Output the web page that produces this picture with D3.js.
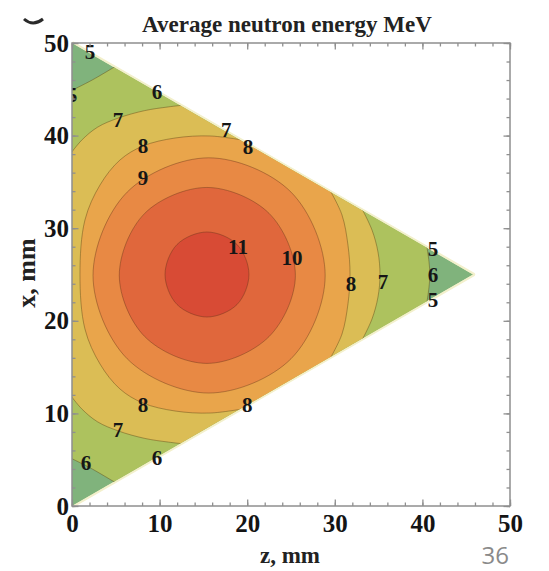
<!DOCTYPE html>
<html>
<head>
<meta charset="utf-8">
<script src="https://cdn.jsdelivr.net/npm/d3@7"></script>
<style>
  body { margin: 0; background: #fff; }
  text.serif { font-family: "Liberation Serif", "Times New Roman", serif; font-weight: bold; }
</style>
</head>
<body>
<svg id="chart" width="549" height="571"></svg>
<script>
// ---- data (z, x in mm) ----
const zTicks = [0, 10, 20, 30, 40, 50];
const xTicks = [0, 10, 20, 30, 40, 50];
const levels = [5, 6, 7, 8, 9, 10, 11];
const bandColors = ["#80b37c", "#adc25e", "#dbbd55", "#e9a54b", "#e88944", "#e0673c", "#d84b35"];

// target cross-section (triangle)
const triangle = [[0, 50], [45.8, 25], [0, 0]];

// E = 6 MeV contour: three pieces cutting off the corners
const c6TopLeft    = [[-0.2, 44.8], [2.3, 46.0], [5.0, 47.5]];
const c6Apex       = [[40.5, 28.1], [40.75, 26.4], [40.85, 25.0], [40.75, 23.6], [40.5, 21.9]];
const c6BottomLeft = [[5.0, 2.5], [2.3, 4.0], [-0.2, 5.2]];

// E = 7 MeV contour
const c7TopLeft    = [[-0.2, 38.0], [1.1, 39.5], [2.9, 40.9], [5.3, 41.9], [8.3, 42.7], [11.0, 43.1], [12.8, 43.3]];
const c7Apex       = [[33.1, 32.1], [34.25, 29.8], [34.93, 27.43], [35.16, 25.0], [34.93, 22.57], [34.25, 20.2], [33.1, 17.9]];
const c7BottomLeft = [[12.8, 6.7], [11.0, 6.9], [8.3, 7.3], [5.3, 8.1], [2.9, 9.1], [1.1, 10.5], [-0.2, 12.0]];

// E = 8 MeV contour
const c8Left = [[19.6, 10.5], [15.75, 10.04], [11.76, 10.26], [8.1, 11.12], [5.48, 12.63], [3.2, 15.33],
                [1.48, 19.11], [0.91, 25.0], [1.48, 30.89], [3.2, 34.67], [5.48, 37.37], [8.1, 38.88],
                [11.76, 39.74], [15.75, 39.96], [19.6, 39.5]];
const c8Apex = [[29.45, 34.1], [30.82, 31.43], [31.5, 28.19], [31.74, 25.0], [31.5, 21.81], [30.82, 18.57], [29.45, 15.9]];

// E = 9, 10, 11 MeV contours (closed loops)
const c9  = [[28.9, 24.9], [25.0, 33.9], [15.6, 37.6], [6.3, 33.9], [2.4, 24.9], [6.3, 15.9], [15.6, 12.2], [25.0, 15.9]];
const c10 = [[25.5, 24.9], [22.5, 31.6], [15.4, 34.4], [8.3, 31.6], [5.4, 24.9], [8.3, 18.3], [15.4, 15.4], [22.5, 18.3]];
const c11 = [[20.2, 25.0], [18.84, 28.24], [15.41, 29.59], [11.99, 28.24], [10.62, 25.0], [11.99, 21.76], [15.41, 20.41], [18.84, 21.76]];

// contour labels: [z, x, text]
const contourLabels = [
  [2.05, 49.0, "5"], [0.0, 44.4, "5"], [9.7, 44.7, "6"], [5.25, 41.7, "7"], [17.6, 40.6, "7"],
  [8.1, 38.9, "8"], [20.1, 38.8, "8"], [8.1, 35.4, "9"], [18.95, 28.0, "11"], [25.1, 26.8, "10"],
  [31.85, 24.0, "8"], [35.5, 24.2, "7"], [41.2, 27.8, "5"], [41.2, 25.0, "6"], [41.2, 22.3, "5"],
  [8.1, 10.9, "8"], [20.0, 10.9, "8"], [5.25, 8.2, "7"], [1.6, 4.6, "6"], [9.7, 5.2, "6"]
];

// ---- layout ----
const svg = d3.select("#chart");
const plotLeft = 72, plotRight = 510, plotTop = 43, plotBottom = 506;
const z = d3.scaleLinear().domain([0, 50]).range([plotLeft, plotRight]);
const x = d3.scaleLinear().domain([0, 50]).range([plotBottom, plotTop]);

const defs = svg.append("defs");
defs.append("clipPath").attr("id", "tri")
  .append("path").attr("d", d3.line().x(d => z(d[0])).y(d => x(d[1]))(triangle) + "Z");
defs.append("clipPath").attr("id", "frame")
  .append("rect").attr("x", plotLeft).attr("y", plotTop)
  .attr("width", plotRight - plotLeft).attr("height", plotBottom - plotTop);

const openCurve = d3.line().x(d => z(d[0])).y(d => x(d[1])).curve(d3.curveCatmullRom.alpha(0.5));
const closedCurve = d3.line().x(d => z(d[0])).y(d => x(d[1])).curve(d3.curveCatmullRomClosed.alpha(0.5));

// region bounded by contour pieces joined along the triangle edges
function regionPath(pieces) {
  return pieces.map((p, i) => {
    const s = openCurve(p);
    return i === 0 ? s : "L" + s.slice(1);
  }).join("") + "Z";
}

// pale rim along the slanted faces
svg.append("path")
  .attr("d", d3.line().x(d => z(d[0])).y(d => x(d[1]))(triangle))
  .attr("fill", "none").attr("stroke", "#f3f0cc").attr("stroke-width", 4).attr("stroke-linejoin", "round");

const field = svg.append("g").attr("clip-path", "url(#tri)");

// lowest band fills the whole section
field.append("path")
  .attr("d", d3.line().x(d => z(d[0])).y(d => x(d[1]))(triangle) + "Z")
  .attr("fill", bandColors[0]);

const regions = [
  { level: 6, d: regionPath([c6TopLeft, c6Apex, c6BottomLeft]) },
  { level: 7, d: regionPath([c7TopLeft, c7Apex, c7BottomLeft]) },
  { level: 8, d: regionPath([c8Left, c8Apex]) },
  { level: 9, d: closedCurve(c9) },
  { level: 10, d: closedCurve(c10) },
  { level: 11, d: closedCurve(c11) }
];
field.selectAll("path.band").data(regions).join("path")
  .attr("class", "band")
  .attr("d", d => d.d)
  .attr("fill", d => bandColors[levels.indexOf(d.level)]);

// contour lines
const openLines = [c6TopLeft, c6Apex, c6BottomLeft, c7TopLeft, c7Apex, c7BottomLeft, c8Left, c8Apex];
field.selectAll("path.cl").data(openLines).join("path")
  .attr("class", "cl").attr("d", openCurve)
  .attr("fill", "none").attr("stroke", "rgba(95,70,25,0.5)").attr("stroke-width", 0.9);
field.selectAll("path.cc").data([c9, c10, c11]).join("path")
  .attr("class", "cc").attr("d", closedCurve)
  .attr("fill", "none").attr("stroke", "rgba(95,50,25,0.45)").attr("stroke-width", 0.9);

// contour labels
svg.append("g").attr("clip-path", "url(#frame)")
  .selectAll("text").data(contourLabels).join("text")
  .attr("class", "serif")
  .attr("x", d => z(d[0])).attr("y", d => x(d[1]))
  .attr("text-anchor", "middle").attr("dominant-baseline", "central")
  .attr("font-size", 21).attr("fill", "#161616")
  .text(d => d[2]);

// frame and ticks
const frameColor = "#8f8f8f";
function styleAxis(g) {
  g.select(".domain").remove();
  g.selectAll(".tick line").attr("stroke", frameColor).attr("stroke-width", 1.3);
  g.selectAll(".tick text").attr("class", "serif").attr("font-size", 25).attr("fill", "#141414");
}
const minorZ = z.ticks(25), minorX = x.ticks(25);

svg.append("g").attr("transform", `translate(0,${plotBottom})`)
  .call(d3.axisBottom(z).tickValues(minorZ).tickSize(-3.5).tickFormat(""))
  .call(styleAxis);
svg.append("g").attr("transform", `translate(0,${plotBottom})`)
  .call(d3.axisBottom(z).tickValues(zTicks).tickSize(-6.5).tickPadding(8).tickFormat(d3.format("d")))
  .call(styleAxis);
svg.append("g").attr("transform", `translate(0,${plotTop})`)
  .call(d3.axisTop(z).tickValues(minorZ).tickSize(-3.5).tickFormat(""))
  .call(styleAxis);
svg.append("g").attr("transform", `translate(0,${plotTop})`)
  .call(d3.axisTop(z).tickValues(zTicks).tickSize(-6.5).tickFormat(""))
  .call(styleAxis);
svg.append("g").attr("transform", `translate(${plotLeft},0)`)
  .call(d3.axisLeft(x).tickValues(minorX).tickSize(-3.5).tickFormat(""))
  .call(styleAxis);
svg.append("g").attr("transform", `translate(${plotLeft},0)`)
  .call(d3.axisLeft(x).tickValues(xTicks).tickSize(-6.5).tickPadding(3).tickFormat(d3.format("d")))
  .call(styleAxis);
svg.append("g").attr("transform", `translate(${plotRight},0)`)
  .call(d3.axisRight(x).tickValues(minorX).tickSize(-3.5).tickFormat(""))
  .call(styleAxis);
svg.append("g").attr("transform", `translate(${plotRight},0)`)
  .call(d3.axisRight(x).tickValues(xTicks).tickSize(-6.5).tickFormat(""))
  .call(styleAxis);

svg.append("rect")
  .attr("x", plotLeft).attr("y", plotTop)
  .attr("width", plotRight - plotLeft).attr("height", plotBottom - plotTop)
  .attr("fill", "none").attr("stroke", frameColor).attr("stroke-width", 1.5);

// titles
svg.append("text").attr("class", "serif").attr("x", 287).attr("y", 32).attr("text-anchor", "middle")
  .attr("font-size", 23).attr("fill", "#222").text("Average neutron energy MeV");
svg.append("text").attr("class", "serif").attr("x", 290).attr("y", 563).attr("text-anchor", "middle")
  .attr("font-size", 23).attr("fill", "#222").text("z, mm");
svg.append("text").attr("class", "serif").attr("transform", "translate(35,273) rotate(-90)")
  .attr("text-anchor", "middle").attr("font-size", 26).attr("fill", "#222").text("x, mm");

// panel mark fragment in the corner
svg.append("path").attr("d", "M24,19 Q33,27 43,19")
  .attr("fill", "none").attr("stroke", "#2a2a2a").attr("stroke-width", 3);

// page number
svg.append("text").attr("x", 509).attr("y", 564).attr("text-anchor", "end")
  .style("font-family", "'Open Sans', sans-serif").style("font-weight", 400)
  .attr("font-size", 24).attr("fill", "#8a8a8a").text("36");
</script>
</body>
</html>
